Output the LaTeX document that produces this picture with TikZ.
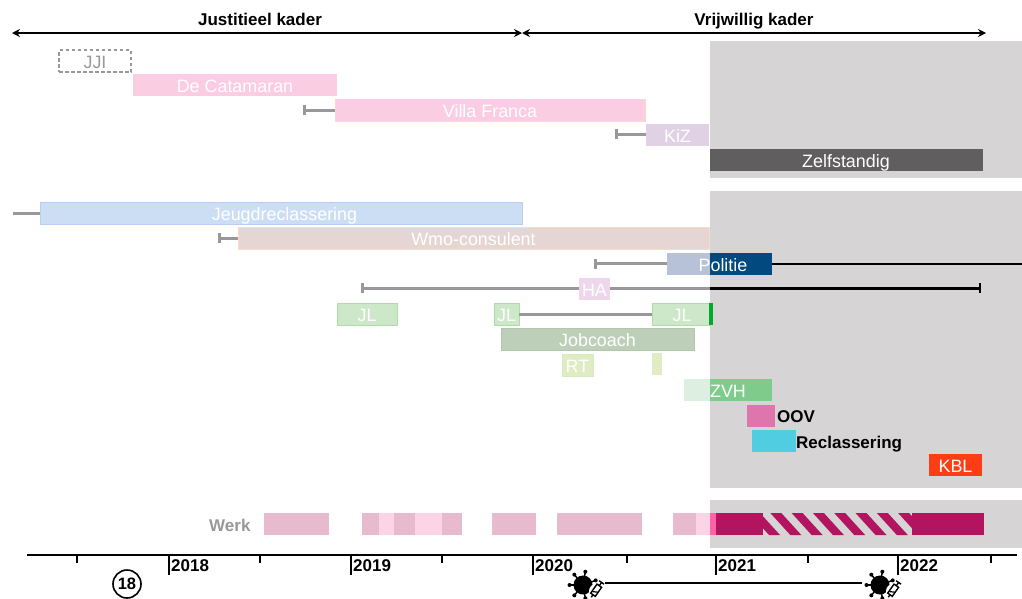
\documentclass[tikz,border=0pt]{standalone}
\usepackage{fontspec}
\setmainfont{Liberation Sans}
\usetikzlibrary{arrows.meta}
\definecolor{panelgrey}{HTML}{D6D4D5}
\definecolor{linegrey}{HTML}{9A979C}
\definecolor{pinkbar}{HTML}{FBCDE2}
\definecolor{edgeorange}{HTML}{FBD9C4}
\definecolor{kizbar}{HTML}{E1D1E5}
\definecolor{darkbar}{HTML}{5F5F5F}
\definecolor{jeugdbar}{HTML}{CBDEF4}
\definecolor{wmobar}{HTML}{E6D6D3}
\definecolor{politiepale}{HTML}{B7C2D8}
\definecolor{politiedark}{HTML}{02497F}
\definecolor{habar}{HTML}{EED7EC}
\definecolor{jlbar}{HTML}{CDE8C8}
\definecolor{jledge}{HTML}{B0DCAA}
\definecolor{jlstrong}{HTML}{00AB2C}
\definecolor{jobbar}{HTML}{BDCFB8}
\definecolor{rtbar}{HTML}{DFECC4}
\definecolor{zvhpale}{HTML}{DCEFE0}
\definecolor{zvhbar}{HTML}{7FCB8B}
\definecolor{oovbar}{HTML}{DE75AC}
\definecolor{reclbar}{HTML}{50CDE1}
\definecolor{kblbar}{HTML}{FF3D14}
\definecolor{werkbar}{HTML}{E7BBCD}
\definecolor{werkpale}{HTML}{FDD3E6}
\definecolor{werkmid}{HTML}{FF62A5}
\definecolor{werkdark}{HTML}{B3145F}
\tikzset{
  panel/.style={fill=panelgrey, draw=none},
  bar/.style={minimum height=22, inner sep=0, text=white, text height=15, text depth=0,
    font=\fontsize{17.9}{18}\selectfont},
  side/.style={inner sep=0, anchor=west, text height=12, text depth=0, font=\fontsize{17}{18}\selectfont\bfseries},
  kader/.style={text height=12, text depth=0, inner sep=0, font=\fontsize{17}{18}\selectfont\bfseries},
  year/.style={inner sep=0, anchor=west, font=\fontsize{17}{18}\selectfont\bfseries},
  period/.style={line width=3, draw=linegrey},
  start/.style={{Bar[width=10pt,line width=2.5pt]}-},
  virus/.pic={
    \fill circle (9.5);
    \foreach \a in {0,50,...,300} {
      \draw[line width=1.5] (0,0) -- (\a-20:13);
      \fill (\a-20:13.5) circle (2);
    }
    \fill[white] (13,6) circle (7);
    \begin{scope}[shift={(14,4)}, rotate=55]
      \draw[line width=1.4, fill=white] (-7,-2.8) rectangle (4,2.8);
      \draw[line width=1.4] (4,0) -- (8,0);
      \draw[line width=1.4] (8,-3) -- (8,3);
      \draw[line width=1.4] (-7,0) -- (-10,0);
      \draw[line width=1.2] (-5,-2.8) -- (-2,2.8);
    \end{scope}
  }
}
\begin{document}
\begin{tikzpicture}[x=1pt, y=-1pt]
  \useasboundingbox (0,0) rectangle (1022,598);
  % grey panels
  \fill[panel] (710,41) rectangle (1022,178);
  \fill[panel] (710,191) rectangle (1022,488);
  \fill[panel] (710,500) rectangle (1022,548);

  % kaders
  \node[kader] (justitieel) at (260,19) {Justitieel kader};
  \node[kader] (vrijwillig) at (754,19) {Vrijwillig kader};
  \coordinate (kaderA) at (12,33);
  \coordinate (kaderB) at (522,33);
  \coordinate (kaderC) at (986,33);
  \draw[line width=1.8, {Stealth[length=8pt,width=8pt]}-{Stealth[length=8pt,width=8pt]}] (kaderA) -- (kaderB);
  \draw[line width=1.8, {Stealth[length=8pt,width=8pt]}-{Stealth[length=8pt,width=8pt]}] (kaderB) -- (kaderC);

  % first block
  \node[bar, minimum width=72, draw=linegrey, dash pattern=on 3.5pt off 2.5pt, line width=2, text=linegrey] (jji) at (95,61) {JJI};
  \node[bar, minimum width=204, fill=pinkbar] (catamaran) at (235,85) {De Catamaran};
  \node[bar, minimum width=310, fill=pinkbar, draw=edgeorange, line width=.6] (villa) at (490,110) {Villa Franca};
  \node[bar, minimum width=63, fill=kizbar] (kiz) at (677.5,135) {KiZ};
  \node[bar, minimum width=273, fill=darkbar] (zelf) at (846,160) {Zelfstandig};
  \coordinate (villaStart) at (303,110);
  \coordinate (kizStart) at (615,134);
  \draw[period, start] (villaStart) -- (villa);
  \draw[period, start] (kizStart) -- (kiz.west |- kizStart);

  % second block
  \node[bar, minimum width=482, fill=jeugdbar, draw=jeugdbar!92!blue, line width=.4] (jeugd) at (281,213) {};
  \node[bar] (jeugdtext) at (284.5,213) {Jeugdreclassering};
  \node[bar, minimum width=471, fill=wmobar, draw=edgeorange, line width=.6] (wmo) at (473.5,238) {Wmo-consulent};
  \coordinate (jeugdStart) at (13,213);
  \coordinate (wmoStart) at (218,238);
  \draw[period] (jeugdStart) -- (jeugd);
  \draw[period, start] (wmoStart) -- (wmo);

  \node[bar, minimum width=43, fill=politiepale] (politieA) at (688.5,263.5) {};
  \node[bar, minimum width=62, fill=politiedark] (politieB) at (741,263.5) {};
  \node[bar] (politie) at (723,264) {Politie};
  \coordinate (politieStart) at (594,263.5);
  \coordinate (politieEnd) at (1022,263.5);
  \draw[period, start] (politieStart) -- (politieA);
  \draw[line width=2] (politieB) -- (politieEnd);

  \node[bar, minimum width=31, fill=habar] (ha) at (594.5,289) {HA};
  \coordinate (haStart) at (361,288);
  \coordinate (haMid) at (710,288);
  \coordinate (haEnd) at (981,288);
  \draw[period, start] (haStart) -- (ha.west |- haStart);
  \draw[period] (ha.east |- haMid) -- (haMid);
  \draw[line width=3, -{Bar[width=10pt,line width=2.5pt]}] (haMid) -- (haEnd);

  \node[bar, minimum width=60, fill=jlbar, draw=jledge, line width=.6] (jlA) at (367,314) {JL};
  \node[bar, minimum width=25, fill=jlbar, draw=jledge, line width=.6] (jlB) at (506.5,314) {JL};
  \node[bar, minimum width=58, fill=jlbar, draw=jledge, line width=.6] (jlC) at (681,314) {};
  \node[bar] (jlCtext) at (682,314) {JL};
  \node[bar, minimum width=4, fill=jlstrong] (jlD) at (711,314) {};
  \draw[period] (jlB) -- (jlC);

  \node[bar, minimum width=193, fill=jobbar, draw=jobbar!95!black, line width=.4] (jobcoach) at (597.5,339) {Jobcoach};
  \node[bar, minimum width=31, fill=rtbar, draw=rtbar!95!green, line width=.4] (rt) at (577.5,365) {RT};
  \node[bar, minimum width=10, fill=rtbar] (rtB) at (657,364) {};

  \node[bar, minimum width=26, fill=zvhpale] (zvhA) at (697,390) {};
  \node[bar, minimum width=62, fill=zvhbar] (zvhB) at (741,390) {};
  \node[bar] (zvh) at (728,390) {ZVH};

  \node[bar, minimum width=28, fill=oovbar] (oov) at (761,415.5) {};
  \node[side] (oovtext) at (777,416) {OOV};
  \node[bar, minimum width=44, fill=reclbar] (reclassering) at (774,440.5) {};
  \node[side] (recltext) at (796,442) {Reclassering};
  \node[bar, minimum width=53, fill=kblbar] (kbl) at (955.5,465) {KBL};

  % werk
  \node[side, text=linegrey] (werk) at (209,525) {Werk};
  \foreach \from/\to/\col in {264/329/werkbar, 362/379/werkbar, 379/394/werkpale, 394/415/werkbar,
    415/442/werkpale, 442/462/werkbar, 492/536/werkbar, 557/642/werkbar, 673/696/werkbar,
    696/710/werkpale, 710/716/werkmid, 716/763/werkdark, 912/984/werkdark}
    \fill[\col] (\from,513) rectangle (\to,535);
  \begin{scope}
    \clip (763,513) rectangle (912,535);
    \foreach \x in {0,...,7}
      \fill[werkdark] (749+21.3*\x,513) -- (760+21.3*\x,513) -- (780+21.3*\x,535) -- (769+21.3*\x,535) -- cycle;
  \end{scope}

  % time axis
  \coordinate (axisA) at (27,555);
  \coordinate (axisB) at (1017,555);
  \draw[line width=1.8] (axisA) -- (axisB);
  \foreach \x/\yr in {169/2018, 351/2019, 533/2020, 716/2021, 898/2022} {
    \draw[line width=1.6] (\x,555) -- (\x,575);
    \node[year] at (\x+2,566) {\yr};
  }
  \foreach \x in {77,260,442,627,808,991}
    \draw[line width=1.6] (\x,555) -- (\x,563);

  \node[draw, circle, line width=1.6, minimum size=28, inner sep=0, font=\fontsize{16.5}{17}\selectfont\bfseries] (achttien) at (127,584) {18};

  \pic at (583,585) {virus};
  \pic at (880,585) {virus};
  \coordinate (virusA) at (605,583);
  \coordinate (virusB) at (862,583);
  \draw[line width=1.5] (virusA) -- (virusB);
\end{tikzpicture}
\end{document}
